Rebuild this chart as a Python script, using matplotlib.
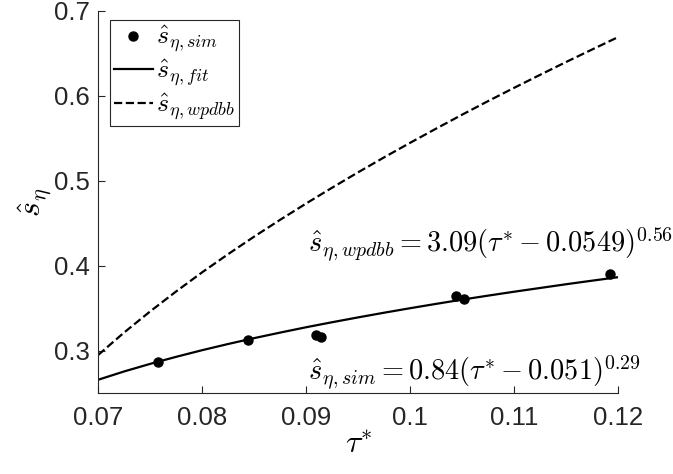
import numpy as np
import matplotlib
matplotlib.use('Agg')
import matplotlib.pyplot as plt
plt.rcParams.update({'mathtext.fontset': 'cm',
                     'font.family': ['Liberation Sans', 'DejaVu Sans']})

# simulated points
tau_sim = [0.0757, 0.0844, 0.0909, 0.0914, 0.1044, 0.1052, 0.1192]
s_sim = [0.2867, 0.3129, 0.3188, 0.3161, 0.3647, 0.3608, 0.3909]

# curves (fit and wpdbb)
tau_curve = [0.07, 0.0725, 0.075, 0.0775, 0.08, 0.0825, 0.085, 0.0875, 0.09,
             0.0925, 0.095, 0.0975, 0.1, 0.1025, 0.105, 0.1075, 0.11, 0.1125,
             0.115, 0.1175, 0.12]
s_fit = [0.2661, 0.2759, 0.2848, 0.2931, 0.3009, 0.3082, 0.3151, 0.3216,
         0.3279, 0.3338, 0.3395, 0.3450, 0.3503, 0.3554, 0.3604, 0.3651,
         0.3697, 0.3741, 0.3785, 0.3827, 0.3868]
s_wpdbb = [0.2953, 0.3218, 0.3466, 0.3701, 0.3926, 0.4140, 0.4346, 0.4544,
           0.4736, 0.4922, 0.5103, 0.5279, 0.5450, 0.5617, 0.5781, 0.5941,
           0.6097, 0.6250, 0.6401, 0.6548, 0.6694]

xticks = [0.07, 0.08, 0.09, 0.1, 0.11, 0.12]
xticklabels = ['0.07', '0.08', '0.09', '0.1', '0.11', '0.12']
yticks = [0.3, 0.4, 0.5, 0.6, 0.7]

fig = plt.figure(figsize=(6.73, 4.74), dpi=100)
ax = fig.add_axes([0.146, 0.170, 0.773, 0.807])

ax.plot(tau_sim, s_sim, 'k.', markersize=13, label=r'$\hat{s}_{\eta,sim}$')
ax.plot(tau_curve, s_fit, 'k-', lw=1.6, label=r'$\hat{s}_{\eta,fit}$')
ax.plot(tau_curve, s_wpdbb, 'k--', lw=1.6, label=r'$\hat{s}_{\eta,wpdbb}$')

ax.text(0.0902, 0.425, r'$\hat{s}_{\eta,wpdbb} = 3.09(\tau^{*} - 0.0549)^{0.56}$',
        fontsize=20.4, va='center', ha='left', clip_on=False)
ax.text(0.0902, 0.274, r'$\hat{s}_{\eta,sim} = 0.84(\tau^{*} - 0.051)^{0.29}$',
        fontsize=20.4, va='center', ha='left', clip_on=False)

ax.set_xlim(0.07, 0.12)
ax.set_ylim(0.25, 0.7)
ax.set_xticks(xticks)
ax.set_xticklabels(xticklabels)
ax.set_yticks(yticks)
ax.tick_params(direction='in', labelsize=18.5, length=5, width=0.8,
               colors='#262626')
ax.tick_params(axis='x', pad=9)
ax.tick_params(axis='y', pad=6)
for s in ['top', 'right']:
    ax.spines[s].set_visible(False)
for s in ['left', 'bottom']:
    ax.spines[s].set_color('#262626')
ax.set_xlabel(r'$\tau^{*}$', fontsize=23, labelpad=0)
ax.set_ylabel(r'$\hat{s}_{\eta}$', fontsize=23, labelpad=0)

leg = ax.legend(loc='upper left', bbox_to_anchor=(0.023, 0.975), fontsize=18.5,
                fancybox=False, edgecolor='#262626', framealpha=1,
                handlelength=1.5, handletextpad=0.15, borderpad=0.15,
                labelspacing=0.1, borderaxespad=0)
leg.get_frame().set_linewidth(0.8)

fig.savefig('out.png', dpi=100)
